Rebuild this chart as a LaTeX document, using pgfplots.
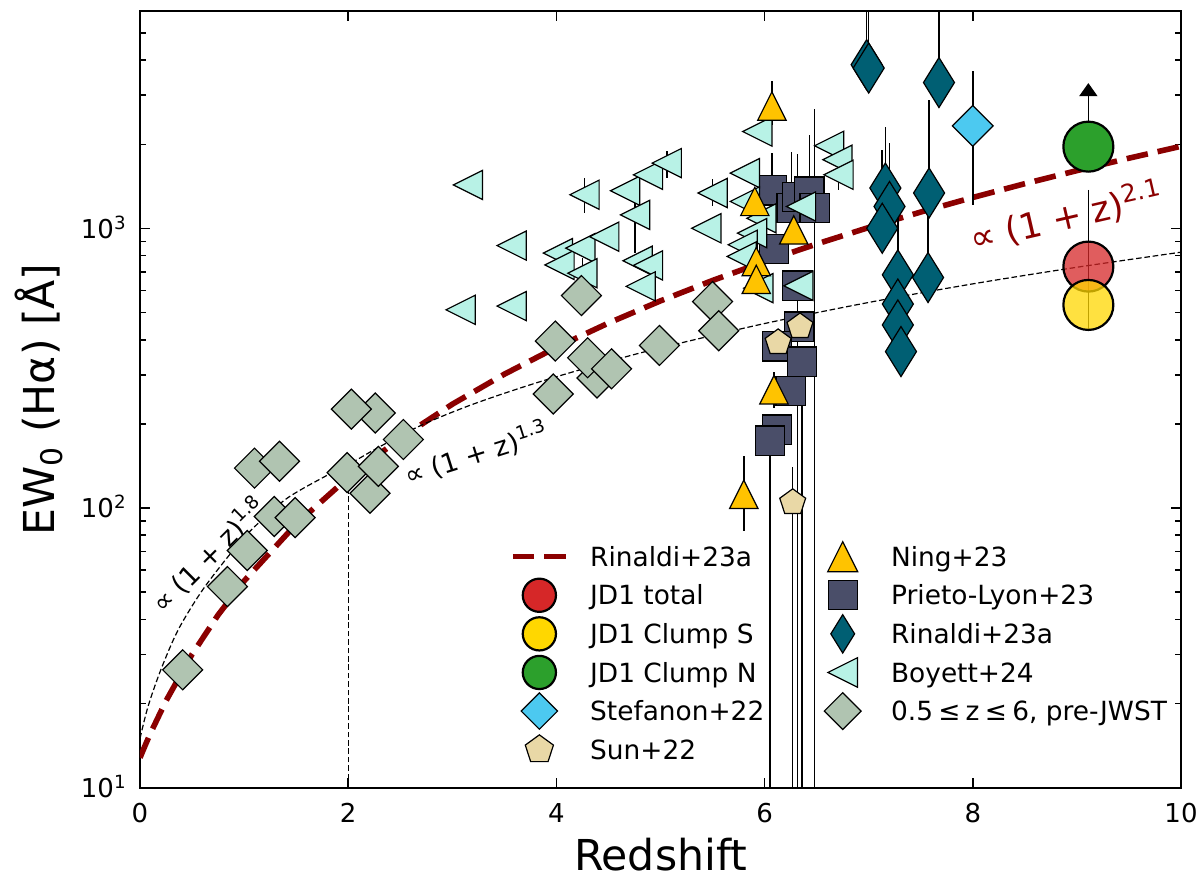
\documentclass[border=0pt]{standalone}
\usepackage{fontspec}
\setmainfont{DejaVu Sans}
\usepackage{pgfplots}
\pgfplotsset{compat=1.18}
\usepackage{pgfplotstable}
\usetikzlibrary{arrows.meta}

\definecolor{preJ}{HTML}{B0C4B1}
\definecolor{boy}{HTML}{B8F2E6}
\definecolor{rin}{HTML}{005F73}
\definecolor{ste}{HTML}{4CC9F0}
\definecolor{sun}{HTML}{E9D8A6}
\definecolor{pri}{HTML}{4A4E69}
\definecolor{nin}{HTML}{FFC300}
\definecolor{jdr}{HTML}{D62728}
\definecolor{jdy}{HTML}{FFD700}
\definecolor{jdg}{HTML}{2CA02C}
\definecolor{drk}{HTML}{8B0000}

\pgfdeclareplotmark{dmd}{%
  \pgfpathmoveto{\pgfqpoint{0pt}{\pgfplotmarksize}}%
  \pgfpathlineto{\pgfqpoint{\pgfplotmarksize}{0pt}}%
  \pgfpathlineto{\pgfqpoint{0pt}{-\pgfplotmarksize}}%
  \pgfpathlineto{\pgfqpoint{-\pgfplotmarksize}{0pt}}%
  \pgfpathclose\pgfusepathqfillstroke}
\pgfdeclareplotmark{thind}{%
  \pgfpathmoveto{\pgfqpoint{0pt}{\pgfplotmarksize}}%
  \pgfpathlineto{\pgfqpoint{0.62\pgfplotmarksize}{0pt}}%
  \pgfpathlineto{\pgfqpoint{0pt}{-\pgfplotmarksize}}%
  \pgfpathlineto{\pgfqpoint{-0.62\pgfplotmarksize}{0pt}}%
  \pgfpathclose\pgfusepathqfillstroke}
\pgfdeclareplotmark{tleft}{%
  \pgfpathmoveto{\pgfqpoint{-\pgfplotmarksize}{0pt}}%
  \pgfpathlineto{\pgfqpoint{\pgfplotmarksize}{\pgfplotmarksize}}%
  \pgfpathlineto{\pgfqpoint{\pgfplotmarksize}{-\pgfplotmarksize}}%
  \pgfpathclose\pgfusepathqfillstroke}
\pgfdeclareplotmark{tup}{%
  \pgfpathmoveto{\pgfqpoint{0pt}{\pgfplotmarksize}}%
  \pgfpathlineto{\pgfqpoint{\pgfplotmarksize}{-\pgfplotmarksize}}%
  \pgfpathlineto{\pgfqpoint{-\pgfplotmarksize}{-\pgfplotmarksize}}%
  \pgfpathclose\pgfusepathqfillstroke}

\tikzset{
  mklg/.style={/pgfplots/legend image code/.code={\path (-13.3bp,0bp) (13.3bp,0bp); \draw[##1] plot coordinates {(0bp,0bp)};}},
  lnlg/.style={/pgfplots/legend image code/.code={\draw[##1] (-13.3bp,0bp) -- (13.3bp,0bp);}},
}
\pgfplotsset{
  ebonly/.style={forget plot, draw=none, mark=none,
    error bars/y dir=both, error bars/y explicit, error bars/error mark=none,
    error bars/error bar style={draw=black, line width=0.75bp, solid}},
}

% ---------------- data ----------------
\pgfplotstableread{
x y
0 12.8
0.05 14.18
0.1 15.64
0.25 20.45
0.5 29.99
0.75 41.46
1 54.87
1.5 87.68
2 128.58
2.5 177.7
3 235.3
3.5 301.3
4 375.9
4.5 459.1
5 551.2
5.5 652.0
6 761.8
6.5 880.6
7 1008.5
7.5 1145.5
8 1291.5
8.5 1446.9
9 1611.4
9.5 1785.3
10 1968.5
}\rinfit

\pgfplotstableread{
x y
0 15.0
0.077 19.5
0.2 26.4
0.365 36.6
0.589 50.2
0.845 67.0
1.07 83.6
1.406 108
1.805 131.5
2.05 146.6
2.305 166
2.716 199
3.2 235.4
3.8 280
4.5 334.2
5 374.3
6 457.3
7 544
8 634
9 727
10 823
}\brokenfit

\pgfplotstableread{
x y
0.41 26.4
0.84 52.4
1.03 70.5
1.10 139
1.29 93.3
1.34 147
1.49 92.5
2.26 219
2.03 226
1.99 134
2.21 113
2.29 141
2.53 176
3.97 256
3.99 396
4.24 576
4.39 292
4.30 345
4.53 315
4.99 382
5.50 548
5.56 431
}\prejwst

\pgfplotstableread{
x y ep em
3.15 1432 0 0
3.57 869 0 0
3.08 512 0 0
3.57 528 0 0
4.27 1321 193 186
4.66 1365 0 0
4.88 1556 0 0
5.06 1714 187 200
4.756 1119 393 304
4.015 817 0 0
4.03 741 0 0
4.23 851 0 0
4.46 935 0 0
4.25 692 90 60
4.78 767 0 0
4.88 738 0 0
4.81 621 0 0
5.50 1340 160 140
5.44 1002 0 0
5.93 2223 0 0
6.62 1977 0 0
6.70 1763 0 0
6.71 1557 0 180
5.81 1578 0 0
5.81 1250 0 0
5.97 1088 0 0
5.88 963 0 0
5.79 875 0 0
5.78 795 0 0
5.94 612 0 0
6.35 1199 0 0
6.325 624 0 0
}\boyett

\pgfplotstableread{
x y ep em
6.07 1368 500 300
6.26 1183 700 0
6.315 1294 550 0
6.43 1356 800 0
6.48 1183 1500 1182
6.09 846 0 0
6.315 625 0 624
6.33 446 0 0
6.12 379 0 0
6.36 334 0 333
6.25 263 0 0
6.12 191 0 0
6.05 174.5 0 173.5
}\prieto

\pgfplotstableread{
x y ep em
6.98 3855 3000 0
7.00 3750 3000 0
7.675 3328 3000 0
7.16 1396 921 0
7.20 1199 824 0
7.13 1002 900 0
7.58 1340 1544 0
7.28 683 516 0
7.57 668 520 0
7.28 537 0 0
7.28 452 0 0
7.31 363 0 0
}\rinaldi

\pgfplotstableread{
x y ep em
6.07 2742 615 400
5.906 1250 0 0
6.28 989 0 0
5.92 762 0 0
5.92 658 0 0
6.09 265 43 37
5.80 112 41 29
}\ning

\pgfplotstableread{
x y ep em
6.34 446 0 0
6.13 391 0 0
6.27 104.8 36 103.8
}\sunt

\pgfplotstableread{
x y ep em
8.0 2329 1318 1112
}\stef

\begin{document}
\begin{tikzpicture}
\path[use as bounding box] (-70bp,-49.65bp) rectangle (530bp,393.85bp);
\begin{axis}[
  at={(0,0)}, anchor=south west,
  scale only axis, width=520.5bp, height=388.35bp,
  xmin=0, xmax=10, ymode=log, ymin=10, ymax=6000,
  xtick={0,2,4,6,8,10}, xticklabels={0,2,4,6,8,10},
  minor x tick num=0,
  ytick={10,100,1000},
  yticklabels={10\textsuperscript{1},10\textsuperscript{2},10\textsuperscript{3}},
  minor ytick={20,30,40,50,60,70,80,90,200,300,400,500,600,700,800,900,2000,3000,4000,5000},
  tick align=inside, tick pos=both,
  major tick length=5bp, minor tick length=2.8bp,
  every tick/.append style={black, line width=0.8bp},
  axis line style={line width=1bp, black},
  ticklabel style={font=\fontsize{13bp}{15bp}\selectfont, inner sep=0pt},
  xticklabel style={anchor=north, yshift=-7.5bp},
  yticklabel style={anchor=base east, xshift=-6.5bp, yshift=-4.74bp},
  xlabel={Redshift}, ylabel={EW\textsubscript{0} (Hα) [Å]},
  label style={font=\fontsize{21.3bp}{24bp}\selectfont},
  xlabel style={at={(axis description cs:0.5,-0.1069)}, anchor=base},
  ylabel style={at={(axis description cs:-0.0817,0.5)}, anchor=base},
  legend columns=2, legend cell align=left,
  legend style={draw=none, fill=none, inner sep=0pt, outer sep=0pt,
    at={(axis description cs:0.3554,0.3223)}, anchor=north west,
    font=\fontsize{13.2bp}{15bp}\selectfont, row sep=0pt, column sep=10.7bp,
    nodes={inner sep=0pt, text height=14.46bp, text depth=4.84bp},
    /tikz/every even column/.append style={column sep=25.7bp}},
]
% fits
\addplot[forget plot, color=drk, line width=2.8bp, dash pattern=on 10.8bp off 5bp] table[x=x,y=y] {\rinfit};
\addplot[forget plot, black, line width=0.6bp, dash pattern=on 2.8bp off 1.4bp, smooth] table[x=x,y=y] {\brokenfit};
\addplot[forget plot, black, line width=0.6bp, dash pattern=on 2.8bp off 1.4bp] coordinates {(2,10) (2,140)};

% Prieto-Lyon
\addplot[ebonly] table[x=x,y=y,y error plus=ep,y error minus=em] {\prieto};
\addplot[forget plot, only marks, mark=square*, mark size=7.3bp, mark options={fill=pri, draw=black, line width=0.6bp}]
  table[x=x,y=y] {\prieto};
% Boyett
\addplot[ebonly] table[x=x,y=y,y error plus=ep,y error minus=em] {\boyett};
\addplot[forget plot, only marks, mark=tleft, mark size=7.3bp, mark options={fill=boy, draw=black, line width=0.6bp}]
  table[x=x,y=y] {\boyett};
% pre-JWST
\addplot[forget plot, only marks, mark=dmd, mark size=10bp, mark options={fill=preJ, draw=black, line width=0.6bp}]
  table[x=x,y=y] {\prejwst};
% Rinaldi
\addplot[ebonly] table[x=x,y=y,y error plus=ep,y error minus=em] {\rinaldi};
\addplot[forget plot, only marks, mark=thind, mark size=12.5bp, mark options={fill=rin, draw=black, line width=0.6bp}]
  table[x=x,y=y] {\rinaldi};
% Ning
\addplot[ebonly] table[x=x,y=y,y error plus=ep,y error minus=em] {\ning};
\addplot[forget plot, only marks, mark=tup, mark size=7.1bp, mark options={fill=nin, draw=black, line width=0.6bp}]
  table[x=x,y=y] {\ning};
% Sun
\addplot[ebonly] table[x=x,y=y,y error plus=ep,y error minus=em] {\sunt};
\addplot[forget plot, only marks, mark=pentagon*, mark size=6.8bp, mark options={fill=sun, draw=black, line width=0.6bp}]
  table[x=x,y=y] {\sunt};
% Stefanon
\addplot[ebonly] table[x=x,y=y,y error plus=ep,y error minus=em] {\stef};
\addplot[forget plot, only marks, mark=dmd, mark size=10.2bp, mark options={fill=ste, draw=black, line width=0.6bp}]
  table[x=x,y=y] {\stef};
% JD1
\addplot[forget plot, only marks, mark=*, mark size=12.5bp, mark options={fill=jdr, fill opacity=0.75, draw=black, line width=1.1bp}]
  coordinates {(9.11,731)};
\addplot[forget plot, only marks, mark=*, mark size=12.5bp, mark options={fill=jdy, fill opacity=0.75, draw=black, line width=1.1bp}]
  coordinates {(9.11,533)};
\addplot[forget plot, only marks, mark=*, mark size=12.5bp, mark options={fill=jdg, draw=black, line width=1.1bp}]
  coordinates {(9.11,1963)};
\addplot[forget plot, black, line width=0.75bp] coordinates {(9.11,1374) (9.11,434)};
\addplot[forget plot, black, line width=0.75bp, -{Triangle[width=9bp,length=6.5bp]}] coordinates {(9.11,1963) (9.11,3313)};
\addplot[forget plot, black, line width=0.75bp] coordinates {(9.059,1963) (9.161,1963)};

% curve labels
\node[rotate=45, font=\fontsize{13.3bp}{15bp}\selectfont] at (axis cs:0.66,68) {∝ (1 + z)\textsuperscript{1.8}};
\node[rotate=17.5, font=\fontsize{13.3bp}{15bp}\selectfont] at (axis cs:3.23,157) {∝ (1 + z)\textsuperscript{1.3}};
\node[rotate=13, text=drk, font=\fontsize{17.6bp}{20bp}\selectfont] at (axis cs:8.90,1104) {∝ (1 + z)\textsuperscript{2.1}};

% legend (row-major order)
\addlegendimage{color=drk, line width=2.8bp, dash pattern=on 10.8bp off 5bp, lnlg}
\addlegendentry{Rinaldi+23a}
\addlegendimage{only marks, mark=tup, mark size=7.5bp, mark options={fill=nin, draw=black, line width=0.6bp}, mklg}
\addlegendentry{Ning+23}
\addlegendimage{only marks, mark=*, mark size=8.3bp, mark options={fill=jdr, draw=black, line width=1.1bp}, mklg}
\addlegendentry{JD1 total}
\addlegendimage{only marks, mark=square*, mark size=7.3bp, mark options={fill=pri, draw=black, line width=0.6bp}, mklg}
\addlegendentry{Prieto-Lyon+23}
\addlegendimage{only marks, mark=*, mark size=8.3bp, mark options={fill=jdy, draw=black, line width=1.1bp}, mklg}
\addlegendentry{JD1 Clump S}
\addlegendimage{only marks, mark=thind, mark size=9.6bp, mark options={fill=rin, draw=black, line width=0.6bp}, mklg}
\addlegendentry{Rinaldi+23a}
\addlegendimage{only marks, mark=*, mark size=8.3bp, mark options={fill=jdg, draw=black, line width=1.1bp}, mklg}
\addlegendentry{JD1 Clump N}
\addlegendimage{only marks, mark=tleft, mark size=7.4bp, mark options={fill=boy, draw=black, line width=0.6bp}, mklg}
\addlegendentry{Boyett+24}
\addlegendimage{only marks, mark=dmd, mark size=9.1bp, mark options={fill=ste, draw=black, line width=0.6bp}, mklg}
\addlegendentry{Stefanon+22}
\addlegendimage{only marks, mark=dmd, mark size=9.2bp, mark options={fill=preJ, draw=black, line width=0.6bp}, mklg}
\addlegendentry{0.5\hspace{0.2em}≤\hspace{0.2em}z\hspace{0.2em}≤\hspace{0.2em}6, pre-JWST}
\addlegendimage{only marks, mark=pentagon*, mark size=7.4bp, mark options={fill=sun, draw=black, line width=0.6bp}, mklg}
\addlegendentry{Sun+22}
\end{axis}
\end{tikzpicture}
\end{document}
